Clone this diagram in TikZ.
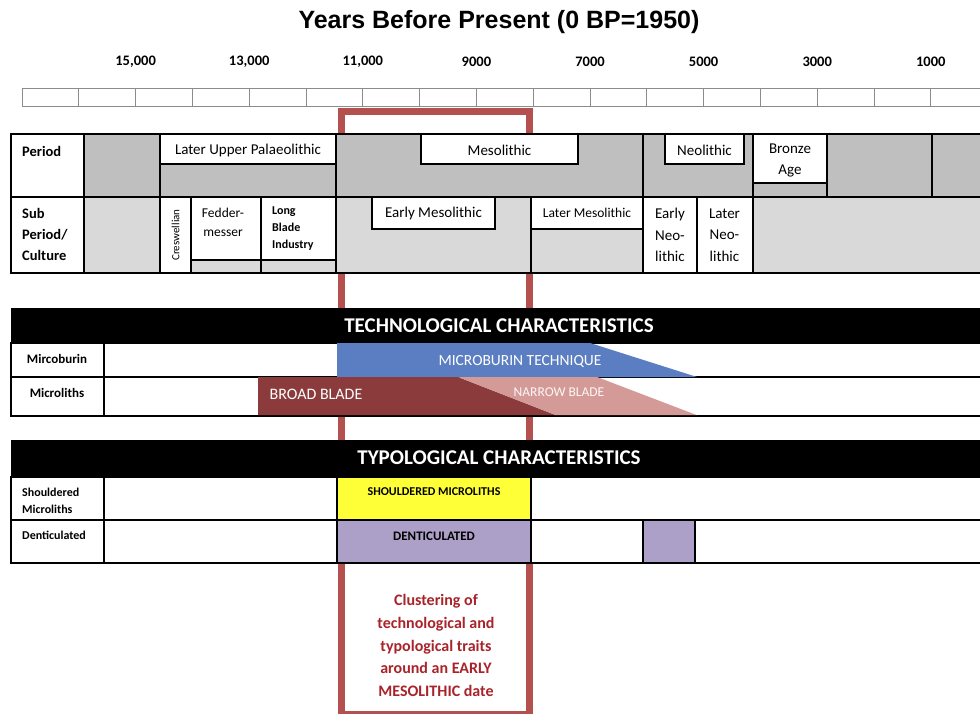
\documentclass[tikz,border=0pt]{standalone}
\usepackage{fontspec}
\setmainfont{Carlito}
\newfontfamily\titlefont{Liberation Sans}
\usepackage{tikz}
\usetikzlibrary{positioning}
\definecolor{darkgrey}{HTML}{BFBFBF}
\definecolor{lightgrey}{HTML}{D9D9D9}
\definecolor{framered}{HTML}{B4504E}
\definecolor{burinblue}{HTML}{5B7DC1}
\definecolor{broadred}{HTML}{8B3B3B}
\definecolor{narrowpink}{HTML}{D49A97}
\definecolor{shoulderyellow}{HTML}{FFFF38}
\definecolor{dentpurple}{HTML}{ADA0C8}
\definecolor{clusterred}{HTML}{A8232A}
\tikzset{
    cellbox/.style={draw=black, line width=1.6pt},
    ruler/.style={draw=black!45, line width=0.9pt},
    headline/.style={font=\titlefont\fontsize{25}{29}\selectfont\bfseries, inner sep=0pt},
    yearlabel/.style={font=\fontsize{14.5}{17}\selectfont\bfseries, inner sep=0pt},
    rowlabel/.style={font=\fontsize{14.5}{21}\selectfont\bfseries, align=left, anchor=west, inner sep=0pt},
    smalllabel/.style={font=\fontsize{12}{17}\selectfont\bfseries, align=left, anchor=west, inner sep=0pt},
    entry/.style={font=\fontsize{15}{21.5}\selectfont, align=center, inner sep=0pt},
    barhead/.style={font=\fontsize{21}{24}\selectfont\bfseries, text=white, inner sep=0pt},
    trait/.style={font=\fontsize{15.5}{18}\selectfont, text=white, inner sep=0pt},
    typetext/.style={font=\fontsize{12}{14}\selectfont\bfseries, inner sep=0pt},
    note/.style={font=\fontsize{16}{22.75}\selectfont\bfseries, text=clusterred, align=center, inner sep=0pt}
}
\begin{document}
\begin{tikzpicture}[x=1pt, y=-1pt]
    \useasboundingbox (0,0) rectangle (980,714);

    % frame round the early mesolithic band
    \draw[framered, line width=7pt] (341.5,112) rectangle (529.5,714);

    \node[headline] (title) at (499,22) {Years Before Present (0 BP=1950)};

    % time scale
    \draw[ruler, fill=white] (22,88) rectangle (990,106);
    \foreach \i in {1,...,16}
        \draw[ruler] ({22+56.8*\i},88) -- ({22+56.8*\i},106);
    \foreach \i/\yr in {2/{15,000},4/{13,000},6/{11,000},8/9000,10/7000,12/5000,14/3000,16/1000}
        \node[yearlabel] (yr\i) at ({22+56.8*\i},62) {\yr};

    % period row
    \draw[cellbox, fill=white] (11,134) rectangle (84,197);
    \node[rowlabel] (period) at (22,151) {Period};
    \draw[cellbox, fill=darkgrey] (84,134) rectangle (160,197);
    \draw[cellbox, fill=darkgrey] (160,134) rectangle (336,197);
    \draw[cellbox, fill=white] (160,134) rectangle (336,164);
    \node[entry] (lup) at (248,150.5) {Later Upper Palaeolithic};
    \draw[cellbox, fill=darkgrey] (336,134) rectangle (643,197);
    \draw[cellbox, fill=white] (421,134) rectangle (578,164);
    \node[entry] (meso) at (499.5,150.5) {Mesolithic};
    \draw[cellbox, fill=darkgrey] (643,134) rectangle (753,197);
    \draw[cellbox, fill=white] (665,134) rectangle (744,164);
    \node[entry] (neo) at (704.5,150) {Neolithic};
    \draw[cellbox, fill=darkgrey] (753,134) rectangle (827,197);
    \draw[cellbox, fill=white] (753,134) rectangle (827,183);
    \node[entry] (bronze) at (790,160.5) {Bronze\\Age};
    \draw[cellbox, fill=darkgrey] (827,134) rectangle (932,197);
    \draw[cellbox, fill=darkgrey] (932,134) rectangle (990,197);

    % sub period row
    \draw[cellbox, fill=white] (11,197) rectangle (84,273);
    \node[rowlabel] (subperiod) at (22,234.5) {Sub\\Period/\\Culture};
    \draw[cellbox, fill=lightgrey] (84,197) rectangle (160,273);
    \draw[cellbox, fill=white] (160,197) rectangle (191,273);
    \node[entry, rotate=90, font=\fontsize{11}{13}\selectfont] (cres) at (175.5,235) {Creswellian};
    \draw[cellbox, fill=lightgrey] (191,197) rectangle (261,273);
    \draw[cellbox, fill=white] (191,197) rectangle (261,260);
    \node[entry, font=\fontsize{13.5}{19}\selectfont] (fedder) at (223,222.5) {Fedder-\\messer};
    \draw[cellbox, fill=lightgrey] (261,197) rectangle (336,273);
    \draw[cellbox, fill=white] (261,197) rectangle (336,260);
    \node[smalllabel] (longblade) at (272,229) {Long\\Blade\\Industry};
    \draw[cellbox, fill=lightgrey] (336,197) rectangle (531,273);
    \draw[cellbox, fill=white] (372,197) rectangle (495,229);
    \node[entry] (earlymeso) at (433.5,214) {Early Mesolithic};
    \draw[cellbox, fill=lightgrey] (531,197) rectangle (643,273);
    \draw[cellbox, fill=white] (531,197) rectangle (643,229);
    \node[entry, font=\fontsize{13.5}{16}\selectfont] (latermeso) at (587,212.5) {Later Mesolithic};
    \draw[cellbox, fill=white] (643,197) rectangle (697,273);
    \node[entry] (earlyneo) at (670,235) {Early\\Neo-\\lithic};
    \draw[cellbox, fill=white] (697,197) rectangle (753,273);
    \node[entry] (laterneo) at (724.5,235) {Later\\Neo-\\lithic};
    \draw[cellbox, fill=lightgrey] (753,197) rectangle (990,273);

    % technological characteristics
    \fill[black] (11,308) rectangle (990,343);
    \node[barhead] (techhead) at (499,325.5) {TECHNOLOGICAL CHARACTERISTICS};
    \draw[cellbox, fill=white] (11,343) rectangle (990,377);
    \draw[cellbox, fill=white] (11,377) rectangle (990,416);
    \draw[cellbox] (11,343) rectangle (104,416);
    \draw[cellbox] (104,377) -- (104,343);
    \node[smalllabel, font=\fontsize{13}{15}\selectfont\bfseries, anchor=center] (burinrow) at (57,358.5) {Mircoburin};
    \node[smalllabel, font=\fontsize{13}{15}\selectfont\bfseries, anchor=center] (lithrow) at (57,393) {Microliths};
    \fill[burinblue] (337,343) -- (590,343) -- (697,377) -- (337,377) -- cycle;
    \fill[broadred] (258,377) -- (458,377) -- (556,415.2) -- (258,415.2) -- cycle;
    \fill[narrowpink] (458,377) -- (597,377) -- (697,415.2) -- (556,415.2) -- cycle;
    \node[trait] (burin) at (520,361) {MICROBURIN TECHNIQUE};
    \node[trait, font=\fontsize{16}{18}\selectfont] (broad) at (316,394.5) {BROAD BLADE};
    \node[trait, font=\fontsize{13.5}{16}\selectfont, text=white!92!narrowpink] (narrow) at (559,392.5) {NARROW BLADE};

    % typological characteristics
    \fill[black] (11,440) rectangle (990,477);
    \node[barhead] (typehead) at (499,458) {TYPOLOGICAL CHARACTERISTICS};
    \draw[cellbox, fill=white] (11,477) rectangle (990,520);
    \draw[cellbox, fill=white] (11,520) rectangle (990,563);
    \draw[cellbox] (104,477) -- (104,563);
    \node[smalllabel] (shoulderrow) at (22,500.5) {Shouldered\\Microliths};
    \node[smalllabel] (dentrow) at (22,535.5) {Denticulated};
    \draw[cellbox, fill=shoulderyellow] (337,477) rectangle (531,520);
    \node[typetext] (shoulder) at (434,491.5) {SHOULDERED MICROLITHS};
    \draw[cellbox, fill=dentpurple] (337,520) rectangle (531,563);
    \node[typetext, font=\fontsize{13}{15}\selectfont\bfseries] (dent) at (434,536.5) {DENTICULATED};
    \draw[cellbox, fill=dentpurple] (643,520) rectangle (695,563);

    \node[note] (cluster) at (436,645.5) {Clustering of\\technological and\\typological traits\\around an EARLY\\MESOLITHIC date};
\end{tikzpicture}
\end{document}
